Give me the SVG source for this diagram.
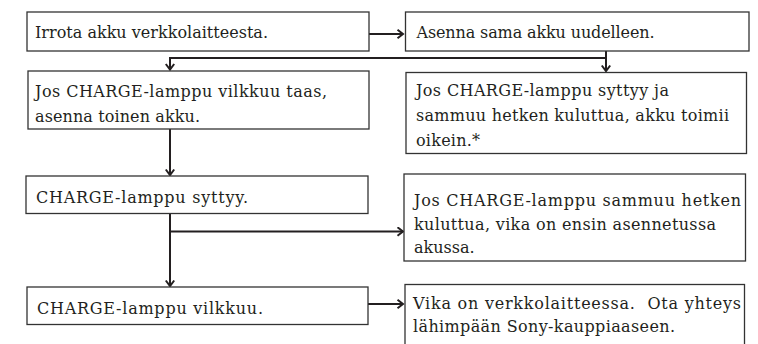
<svg xmlns="http://www.w3.org/2000/svg" width="758" height="344" viewBox="0 0 758 344">
<defs>
<style>
.box{fill:#fff;stroke:#333;stroke-width:1.3}
.t{font-family:"DejaVu Serif","Liberation Serif",serif;font-size:16px;fill:#231f20}
.c{fill:none;stroke:#231f20;stroke-width:2}
</style>
<marker id="ah" markerUnits="userSpaceOnUse" markerWidth="12" markerHeight="12" refX="7" refY="5" orient="auto">
<path d="M1.5,0.8 L7,5 L1.5,9.2" fill="none" stroke="#231f20" stroke-width="2"/>
</marker>
</defs>
<rect width="758" height="344" fill="#fff"/>
<g id="connectors">
<path class="c" d="M369,34 H403" marker-end="url(#ah)"/>
<path class="c" d="M606,51 V71" marker-end="url(#ah)"/>
<path class="c" d="M606,58 H170 V69.5" marker-end="url(#ah)"/>
<path class="c" d="M170,129 V175" marker-end="url(#ah)"/>
<path class="c" d="M170,213 V286" marker-end="url(#ah)"/>
<path class="c" d="M170,231.5 H403" marker-end="url(#ah)"/>
<path class="c" d="M368,304 H403" marker-end="url(#ah)"/>
</g>
<g id="n1">
<rect class="box" x="27" y="12" width="342" height="39"/>
<text class="t" x="35" y="37.5" textLength="233" lengthAdjust="spacing">Irrota akku verkkolaitteesta.</text>
</g>
<g id="n2">
<rect class="box" x="405.5" y="12" width="343.5" height="39"/>
<text class="t" x="416.5" y="37.5" textLength="238" lengthAdjust="spacing">Asenna sama akku uudelleen.</text>
</g>
<g id="n3">
<rect class="box" x="28" y="71" width="341" height="58"/>
<text class="t" x="35" y="96.5" textLength="292" lengthAdjust="spacing">Jos CHARGE-lamppu vilkkuu taas,</text>
<text class="t" x="35" y="121.5" textLength="165" lengthAdjust="spacing">asenna toinen akku.</text>
</g>
<g id="n4">
<rect class="box" x="406" y="72.5" width="340.5" height="81"/>
<text class="t" x="416" y="96" textLength="253" lengthAdjust="spacing">Jos CHARGE-lamppu syttyy ja</text>
<text class="t" x="416" y="121" textLength="313" lengthAdjust="spacing">sammuu hetken kuluttua, akku toimii</text>
<text class="t" x="416" y="146" textLength="64" lengthAdjust="spacing">oikein.*</text>
</g>
<g id="n5">
<rect class="box" x="26" y="176" width="342" height="37.5"/>
<text class="t" x="36" y="203" textLength="212" lengthAdjust="spacing">CHARGE-lamppu syttyy.</text>
</g>
<g id="n6">
<rect class="box" x="404" y="174" width="341.5" height="87"/>
<text class="t" x="414" y="206" textLength="327" lengthAdjust="spacing">Jos CHARGE-lamppu sammuu hetken</text>
<text class="t" x="414" y="229.5" textLength="302" lengthAdjust="spacing">kuluttua, vika on ensin asennetussa</text>
<text class="t" x="414" y="253">akussa.</text>
</g>
<g id="n7">
<rect class="box" x="27" y="287" width="341" height="37.5"/>
<text class="t" x="37" y="313.5" textLength="226" lengthAdjust="spacing">CHARGE-lamppu vilkkuu.</text>
</g>
<g id="n8">
<rect class="box" x="405" y="284.5" width="339.5" height="70"/>
<text class="t" x="413" y="308.5" textLength="328" lengthAdjust="spacing" xml:space="preserve">Vika on verkkolaitteessa.  Ota yhteys</text>
<text class="t" x="413" y="332" textLength="262" lengthAdjust="spacing">lähimpään Sony-kauppiaaseen.</text>
</g>
</svg>
